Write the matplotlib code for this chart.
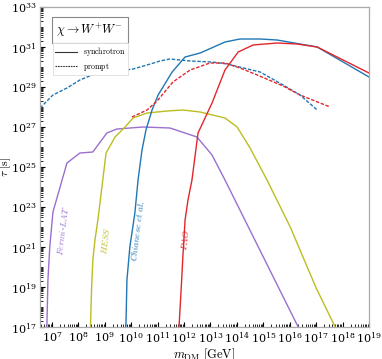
import numpy as np
import matplotlib
matplotlib.use("Agg")
import matplotlib.pyplot as plt
from matplotlib.ticker import LogLocator, NullFormatter
from matplotlib.lines import Line2D

plt.rcParams['mathtext.fontset'] = 'cm'
plt.rcParams['font.family'] = ['DejaVu Serif']
plt.rcParams['axes.formatter.use_mathtext'] = True

# data: log10(m_DM / GeV), log10(tau / s)
fermi_logm = [6.81, 6.85, 6.92, 7.04, 7.57, 8.06, 8.55, 9.08, 9.46, 10.45, 11.47, 12.49, 13.06, 13.55, 16.32]
fermi_logt = [17.0, 19.35, 21.0, 22.75, 25.2, 25.7, 25.75, 26.7, 26.9, 27.0, 26.95, 26.5, 25.6, 24.35, 17.0]

hess_logm = [8.46, 8.50, 8.55, 8.63, 8.74, 9.05, 9.39, 9.77, 10.07, 10.60, 11.36, 11.96, 12.61, 13.55, 14.01, 14.5, 15.14, 16.02, 17.0, 17.72]
hess_logt = [17.0, 18.85, 20.35, 21.35, 22.35, 25.7, 26.5, 27.0, 27.45, 27.7, 27.8, 27.85, 27.75, 27.45, 27.0, 25.95, 24.35, 22.0, 18.95, 17.0]

chi_sync_logm = [9.80, 9.84, 9.95, 10.14, 10.26, 10.41, 10.56, 10.79, 11.02, 11.55, 12.04, 12.61, 13.55, 14.12, 14.88, 15.52, 17.04, 19.0]
chi_sync_logt = [17.0, 19.35, 21.0, 22.7, 24.35, 25.85, 26.85, 27.85, 28.6, 29.75, 30.5, 30.7, 31.25, 31.4, 31.4, 31.35, 31.0, 29.5]

chi_prompt_logm = [6.55, 7.04, 7.57, 8.06, 8.52, 9.08, 9.5, 10.07, 10.6, 11.09, 11.47, 12.23, 13.06, 13.63, 14.88, 15.75, 16.39, 17.04]
chi_prompt_logt = [27.95, 28.6, 28.95, 29.35, 29.6, 29.75, 29.8, 29.9, 30.1, 30.3, 30.4, 30.3, 30.25, 30.15, 29.75, 29.1, 28.6, 27.85]

pao_sync_logm = [11.81, 11.89, 11.96, 12.04, 12.15, 12.30, 12.53, 13.06, 13.55, 14.05, 14.61, 15.52, 16.28, 17.04, 19.0]
pao_sync_logt = [17.0, 18.85, 20.6, 22.35, 23.35, 24.35, 26.7, 28.2, 29.85, 30.75, 31.1, 31.2, 31.15, 31.0, 29.7]

pao_prompt_logm = [10.03, 10.6, 10.98, 11.58, 12.23, 12.98, 13.55, 14.12, 14.77, 15.75, 16.39, 17.53]
pao_prompt_logt = [27.5, 27.85, 28.3, 29.25, 29.85, 30.2, 30.2, 29.95, 29.6, 29.05, 28.6, 28.0]

c_purple = '#9b6fcf'
c_yellow = '#bcbd22'
c_blue = '#1f77b4'
c_red = '#e3262b'

def p(a):
    return 10.0 ** np.array(a)

fig = plt.figure(figsize=(3.82, 3.59), dpi=100)
ax = fig.add_axes([0.1047, 0.0891, 0.8613, 0.8914])

lw = 1.0
dash = (0, (2.5, 1.2))
ax.plot(p(fermi_logm), p(fermi_logt), color=c_purple, lw=lw)
ax.plot(p(hess_logm), p(hess_logt), color=c_yellow, lw=lw)
ax.plot(p(chi_sync_logm), p(chi_sync_logt), color=c_blue, lw=lw)
ax.plot(p(chi_prompt_logm), p(chi_prompt_logt), color=c_blue, lw=lw, ls=dash)
ax.plot(p(pao_sync_logm), p(pao_sync_logt), color=c_red, lw=lw)
ax.plot(p(pao_prompt_logm), p(pao_prompt_logt), color=c_red, lw=lw, ls=dash)

ax.set_xscale('log')
ax.set_yscale('log')
ax.set_xlim(10**6.55, 1e19)
ax.set_ylim(1e17, 1e33)

ax.xaxis.set_major_locator(LogLocator(base=10, numticks=20))
ax.xaxis.set_minor_locator(LogLocator(base=10, subs=np.arange(2, 10), numticks=100))
ax.xaxis.set_minor_formatter(NullFormatter())
ax.set_yticks([10.0**k for k in range(17, 34, 2)])
ax.yaxis.set_minor_locator(LogLocator(base=10, subs=np.arange(1, 10), numticks=100))
ax.yaxis.set_minor_formatter(NullFormatter())

ax.tick_params(which='both', direction='in', top=False, right=False, labelsize=8)
ax.tick_params(which='major', length=3.5, width=0.8, pad=2.5)
ax.tick_params(which='minor', length=2, width=0.6)
for s in ax.spines.values():
    s.set_color('#aaaaaa')
    s.set_linewidth(0.9)

ax.set_xlabel(r'$m_{\rm DM}\ [\mathrm{GeV}]$', fontsize=9, labelpad=1)
ax.set_ylabel(r'$\tau\ [\mathrm{s}]$', fontsize=8.5)
ax.yaxis.set_label_coords(-0.083, 0.5)

# channel box
ax.text(0.05, 0.955, r'$\chi \rightarrow W^{+}W^{-}$', transform=ax.transAxes, fontsize=9,
        va='top', ha='left',
        bbox=dict(boxstyle='square,pad=0.35', facecolor='white', edgecolor='#888888', linewidth=0.8))

handles = [Line2D([], [], color='#333333', lw=0.8),
           Line2D([], [], color='#333333', lw=0.8, ls=(0, (1.5, 0.8)))]
leg = ax.legend(handles, [r'$\mathrm{synchrotron}$', r'$\mathrm{prompt}$'],
                loc='upper left', bbox_to_anchor=(0.027, 0.9), fontsize=5.6,
                frameon=True, fancybox=False, framealpha=1, edgecolor='#dddddd',
                handlelength=2.8, handletextpad=0.8, borderpad=0.3, labelspacing=0.3)
leg.get_frame().set_linewidth(0.6)

def lab(x, y, s, c, rot):
    ax.text(10**x, 10**y, s, color=c, rotation=rot, fontsize=6.5, ha='center', va='center',
            rotation_mode='anchor')

lab(7.42, 21.8, r'$\mathit{Fermi}$-$\mathit{LAT}$', c_purple, 83)
lab(9.03, 21.3, r'$\mathit{HESS}$', c_yellow, 83)
lab(10.25, 21.8, r'$\mathit{Chianese\ et\ al.}$', c_blue, 83)
lab(12.05, 21.35, r'$\mathit{PAO}$', c_red, 83)

fig.savefig('out.png', dpi=100)
